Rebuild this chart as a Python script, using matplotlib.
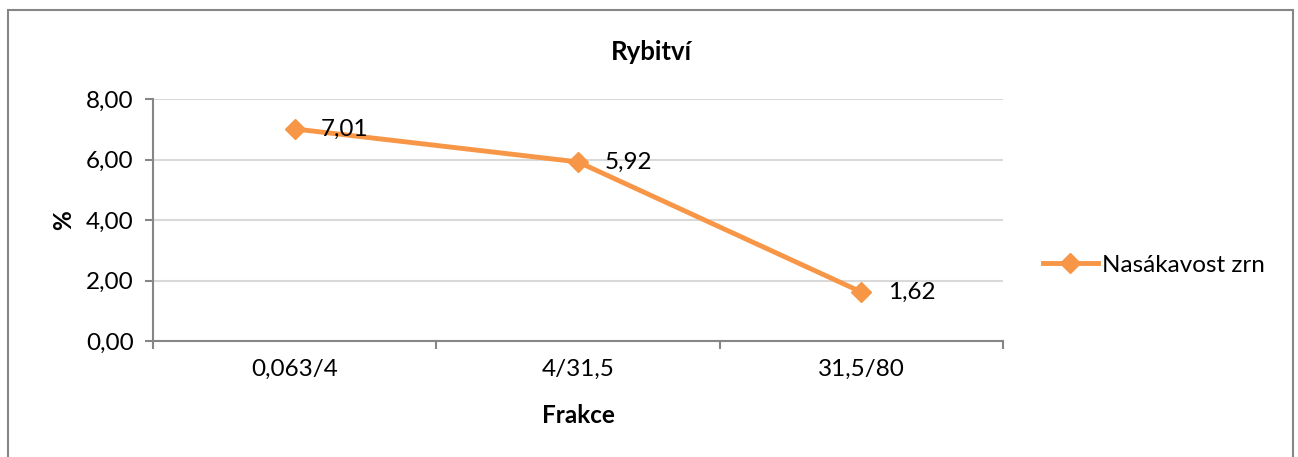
import matplotlib
matplotlib.use("Agg")
import matplotlib.pyplot as plt
from matplotlib.patches import Rectangle
from matplotlib.ticker import FixedLocator, FuncFormatter

plt.rcParams['font.family'] = ['Lato', 'DejaVu Sans']

categories = ["0,063/4", "4/31,5", "31,5/80"]
values = [7.01, 5.92, 1.62]
series_name = "Nasákavost zrn"
title = "Rybitví"
xlabel = "Frakce"
ylabel = "%"
yticks = [0, 2, 4, 6, 8]

W, H = 1298, 457
fig = plt.figure(figsize=(W / 100, H / 100), dpi=100)
orange = "#F79646"
axis_grey = "#868686"
grid_grey = "#D9D9D9"
fs = 17.5

# outer border
fig.patches.append(Rectangle((8 / W, -0.02), (1293 - 8) / W, 1 - 10 / H + 0.02,
                             transform=fig.transFigure, fill=False,
                             edgecolor=axis_grey, linewidth=1.5))

left, right = 153 / W, 1003 / W
bottom, top = 1 - 341 / H, 1 - 99 / H
ax = fig.add_axes([left, bottom, right - left, top - bottom])

x = list(range(len(categories)))
line, = ax.plot(x, values, color=orange, linewidth=3.5, marker="D",
                markersize=10, markerfacecolor=orange, markeredgecolor=orange,
                label=series_name, zorder=3)

for xi, v in zip(x, values):
    ax.annotate(f"{v:.2f}".replace(".", ","), (xi, v), xytext=(19, 0),
                textcoords="offset points", ha="left", va="center",
                fontsize=fs, color="black")

ax.set_xlim(-0.5, len(categories) - 0.5)
ax.set_ylim(0, 8)
ax.set_yticks(yticks)
ax.yaxis.set_major_formatter(FuncFormatter(lambda v, p: f"{v:.2f}".replace(".", ",")))
ax.set_xticks(x)
ax.set_xticklabels(categories)
ax.xaxis.set_minor_locator(FixedLocator([i - 0.5 for i in range(len(categories) + 1)]))
ax.tick_params(axis="x", which="major", length=0, labelsize=fs, pad=13)
ax.tick_params(axis="x", which="minor", length=6, color=axis_grey, width=1.5)
ax.tick_params(axis="y", which="major", length=6, color=axis_grey, width=1.5,
               labelsize=fs, pad=8)

ax.grid(axis="y", color=grid_grey, linewidth=1.5)
ax.set_axisbelow(True)
for s in ["top", "right"]:
    ax.spines[s].set_visible(False)
for s in ["left", "bottom"]:
    ax.spines[s].set_color(axis_grey)
    ax.spines[s].set_linewidth(1.5)

fig.text(651 / W, 1 - 52 / H, title, fontsize=18.5, fontweight="bold",
         ha="center", va="center")
ax.set_xlabel(xlabel, fontsize=fs, fontweight="bold", labelpad=17)
ax.set_ylabel(ylabel, fontsize=fs, fontweight="bold", labelpad=8)

leg = fig.legend(handles=[line], loc="center left",
                 bbox_to_anchor=(1021 / W, 1 - 265 / H), frameon=False,
                 fontsize=fs, handlelength=2.25, handletextpad=0.2)

fig.savefig("out.png", dpi=100)
